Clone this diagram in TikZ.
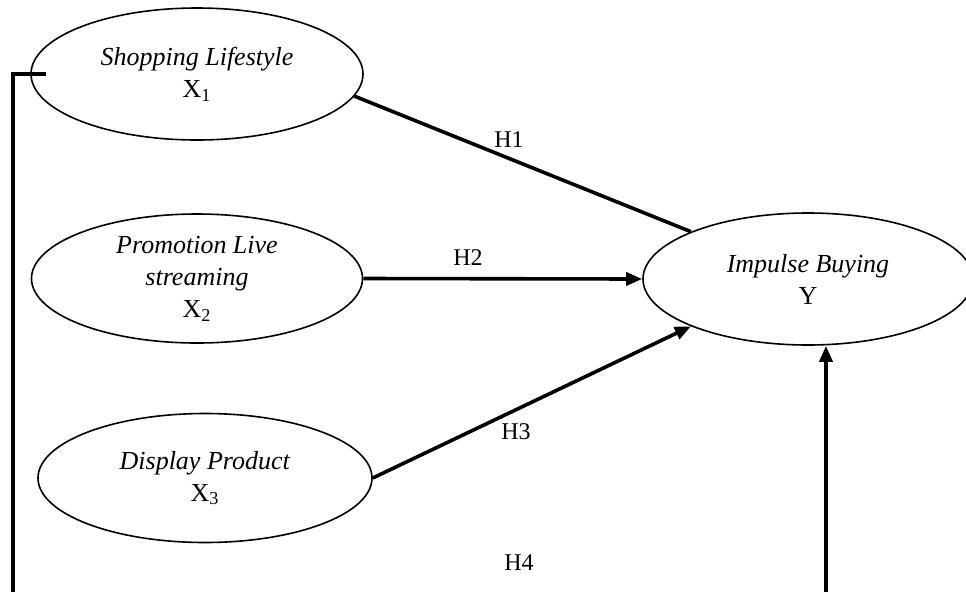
\documentclass[tikz,border=0pt]{standalone}
\usepackage{fontspec}
\setmainfont{Liberation Serif}
\usetikzlibrary{shapes.geometric,arrows.meta}
\begin{document}
\begin{tikzpicture}[x=0.5pt,y=-0.5pt,>={Triangle[length=8pt,width=6.5pt]},
  var/.style={ellipse,draw,line width=.8pt,inner sep=0pt,align=center,font=\fontsize{13}{16}\selectfont},
  link/.style={line width=1.8pt},
  hlabel/.style={font=\fontsize{12}{14}\selectfont}]
\clip (0,0) rectangle (966,591);
\node[var,minimum width=166pt,minimum height=66pt] (sl) at (197,74) {\textit{Shopping Lifestyle}\\X\textsubscript{1}};
\node[var,minimum width=165.5pt,minimum height=64.5pt] (sp) at (197,278.5) {\textit{Promotion Live}\\\textit{streaming}\\X\textsubscript{2}};
\node[var,minimum width=167pt,minimum height=64.5pt] (dp) at (205,478) {\textit{Display Product}\\X\textsubscript{3}};
\node[var,minimum width=165pt,minimum height=66pt] (ib) at (808,279) {\textit{Impulse Buying}\\Y};
\coordinate (lft) at (13,600);
\coordinate (rgt) at (826,600);
\draw[link] (sl.-8) -- (ib.158);
\draw[link,->] (sp.east) -- (ib.west);
\draw[link,->] (dp.east) -- (ib.-158);
\draw[link] ([xshift=8pt]sl.west) -- (sl.west -| lft) -- (lft);
\draw[link,->] (rgt) -- (ib.south -| rgt);
\node[hlabel] (h1) at (509,140) {H1};
\node[hlabel] (h2) at (468,258) {H2};
\node[hlabel] (h3) at (516,432) {H3};
\node[hlabel] (h4) at (519,563) {H4};
\end{tikzpicture}
\end{document}
